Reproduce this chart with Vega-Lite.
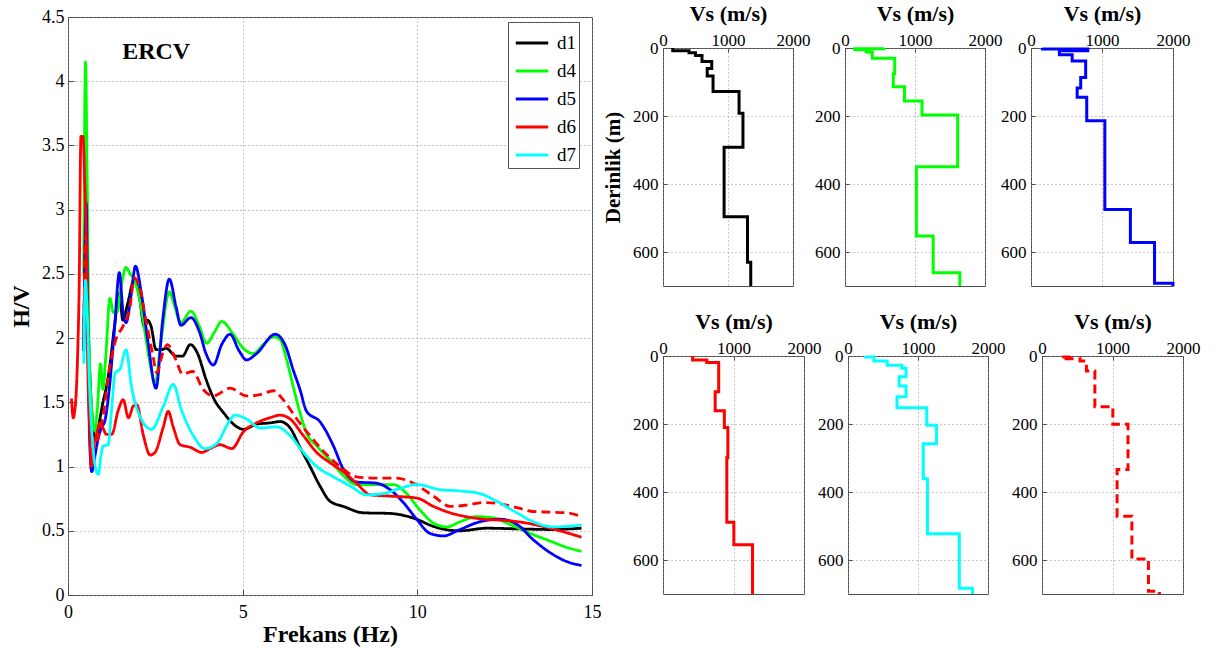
{
  "$schema": "https://vega.github.io/schema/vega-lite/v6.json",
  "padding": {"left": 9, "top": 1, "right": 5, "bottom": 5},
  "bounds": "flush",
  "spacing": 71,
  "resolve": {"scale": {"color": "independent", "strokeDash": "independent"}, "legend": {"color": "independent", "strokeDash": "independent"}},
  "config": {
    "font": "Liberation Serif",
    "view": {"stroke": "#4d4d4d", "strokeWidth": 1},
    "axis": {"grid": true, "gridColor": "#8c8c8c", "gridDash": [1, 3], "gridWidth": 1, "domain": false, "ticks": true, "tickColor": "#4d4d4d", "tickWidth": 1, "labelColor": "#000000", "titleColor": "#000000", "labelFont": "Liberation Serif", "titleFont": "Liberation Serif", "titleFontWeight": "bold", "labelFlush": false, "labelOverlap": false}
  },
  "datasets": {
    "hv": [
      {"s":"d1","f":0.45,"v":1.9},{"s":"d1","f":0.5,"v":2.6},{"s":"d1","f":0.55,"v":2.3},{"s":"d1","f":0.62,"v":1.75},{"s":"d1","f":0.7,"v":1.35},{"s":"d1","f":0.8,"v":1.2},{"s":"d1","f":0.9,"v":1.35},{"s":"d1","f":1.0,"v":1.5},{"s":"d1","f":1.1,"v":1.62},{"s":"d1","f":1.18,"v":1.75},{"s":"d1","f":1.33,"v":2.09},{"s":"d1","f":1.47,"v":2.35},{"s":"d1","f":1.57,"v":2.14},{"s":"d1","f":1.71,"v":2.27},{"s":"d1","f":1.9,"v":2.46},{"s":"d1","f":2.04,"v":2.33},{"s":"d1","f":2.18,"v":2.09},{"s":"d1","f":2.28,"v":2.14},{"s":"d1","f":2.38,"v":2.09},{"s":"d1","f":2.52,"v":1.91},{"s":"d1","f":2.66,"v":1.91},{"s":"d1","f":2.81,"v":1.92},{"s":"d1","f":3.09,"v":1.86},{"s":"d1","f":3.28,"v":1.86},{"s":"d1","f":3.5,"v":1.95},{"s":"d1","f":3.71,"v":1.88},{"s":"d1","f":3.95,"v":1.68},{"s":"d1","f":4.19,"v":1.52},{"s":"d1","f":4.45,"v":1.42},{"s":"d1","f":4.83,"v":1.31},{"s":"d1","f":5.02,"v":1.29},{"s":"d1","f":5.4,"v":1.33},{"s":"d1","f":5.78,"v":1.34},{"s":"d1","f":6.07,"v":1.35},{"s":"d1","f":6.36,"v":1.3},{"s":"d1","f":6.64,"v":1.15},{"s":"d1","f":6.93,"v":1.0},{"s":"d1","f":7.21,"v":0.85},{"s":"d1","f":7.5,"v":0.73},{"s":"d1","f":7.88,"v":0.69},{"s":"d1","f":8.45,"v":0.64},{"s":"d1","f":9.22,"v":0.635},{"s":"d1","f":9.6,"v":0.62},{"s":"d1","f":9.98,"v":0.59},{"s":"d1","f":10.4,"v":0.54},{"s":"d1","f":10.8,"v":0.51},{"s":"d1","f":11.22,"v":0.5},{"s":"d1","f":11.98,"v":0.52},{"s":"d1","f":12.85,"v":0.515},{"s":"d1","f":13.8,"v":0.51},{"s":"d1","f":14.7,"v":0.52},
      {"s":"d4","f":0.45,"v":2.5},{"s":"d4","f":0.5,"v":4.15},{"s":"d4","f":0.55,"v":3.2},{"s":"d4","f":0.6,"v":2.0},{"s":"d4","f":0.68,"v":1.45},{"s":"d4","f":0.76,"v":1.28},{"s":"d4","f":0.84,"v":1.45},{"s":"d4","f":0.93,"v":1.8},{"s":"d4","f":1.0,"v":1.6},{"s":"d4","f":1.08,"v":1.85},{"s":"d4","f":1.2,"v":2.31},{"s":"d4","f":1.3,"v":2.2},{"s":"d4","f":1.4,"v":2.2},{"s":"d4","f":1.52,"v":2.4},{"s":"d4","f":1.66,"v":2.55},{"s":"d4","f":1.78,"v":2.5},{"s":"d4","f":1.9,"v":2.45},{"s":"d4","f":2.05,"v":2.3},{"s":"d4","f":2.2,"v":2.05},{"s":"d4","f":2.35,"v":1.8},{"s":"d4","f":2.49,"v":1.64},{"s":"d4","f":2.65,"v":1.95},{"s":"d4","f":2.9,"v":2.36},{"s":"d4","f":3.05,"v":2.25},{"s":"d4","f":3.23,"v":2.12},{"s":"d4","f":3.52,"v":2.21},{"s":"d4","f":3.75,"v":2.1},{"s":"d4","f":3.97,"v":1.96},{"s":"d4","f":4.2,"v":2.05},{"s":"d4","f":4.4,"v":2.13},{"s":"d4","f":4.73,"v":2.03},{"s":"d4","f":5.02,"v":1.92},{"s":"d4","f":5.31,"v":1.88},{"s":"d4","f":5.59,"v":1.95},{"s":"d4","f":5.88,"v":2.01},{"s":"d4","f":6.07,"v":1.99},{"s":"d4","f":6.26,"v":1.83},{"s":"d4","f":6.45,"v":1.62},{"s":"d4","f":6.64,"v":1.42},{"s":"d4","f":6.83,"v":1.26},{"s":"d4","f":7.12,"v":1.16},{"s":"d4","f":7.5,"v":1.05},{"s":"d4","f":7.88,"v":0.93},{"s":"d4","f":8.26,"v":0.86},{"s":"d4","f":8.84,"v":0.86},{"s":"d4","f":9.31,"v":0.86},{"s":"d4","f":9.69,"v":0.79},{"s":"d4","f":10.08,"v":0.66},{"s":"d4","f":10.46,"v":0.56},{"s":"d4","f":10.84,"v":0.53},{"s":"d4","f":11.22,"v":0.57},{"s":"d4","f":11.7,"v":0.61},{"s":"d4","f":12.18,"v":0.6},{"s":"d4","f":12.65,"v":0.55},{"s":"d4","f":13.23,"v":0.48},{"s":"d4","f":13.8,"v":0.42},{"s":"d4","f":14.28,"v":0.37},{"s":"d4","f":14.7,"v":0.34},
      {"s":"d5","f":0.45,"v":1.9},{"s":"d5","f":0.52,"v":3.05},{"s":"d5","f":0.57,"v":2.0},{"s":"d5","f":0.62,"v":1.2},{"s":"d5","f":0.68,"v":0.96},{"s":"d5","f":0.75,"v":1.05},{"s":"d5","f":0.85,"v":1.2},{"s":"d5","f":0.95,"v":1.3},{"s":"d5","f":1.05,"v":1.35},{"s":"d5","f":1.18,"v":1.6},{"s":"d5","f":1.33,"v":2.07},{"s":"d5","f":1.47,"v":2.51},{"s":"d5","f":1.57,"v":2.22},{"s":"d5","f":1.66,"v":2.12},{"s":"d5","f":1.81,"v":2.34},{"s":"d5","f":1.93,"v":2.56},{"s":"d5","f":2.1,"v":2.35},{"s":"d5","f":2.28,"v":1.99},{"s":"d5","f":2.52,"v":1.61},{"s":"d5","f":2.71,"v":2.14},{"s":"d5","f":2.9,"v":2.46},{"s":"d5","f":3.09,"v":2.25},{"s":"d5","f":3.23,"v":2.1},{"s":"d5","f":3.52,"v":2.16},{"s":"d5","f":3.76,"v":2.05},{"s":"d5","f":3.95,"v":1.88},{"s":"d5","f":4.16,"v":1.79},{"s":"d5","f":4.4,"v":1.95},{"s":"d5","f":4.64,"v":2.03},{"s":"d5","f":4.9,"v":1.9},{"s":"d5","f":5.11,"v":1.83},{"s":"d5","f":5.4,"v":1.88},{"s":"d5","f":5.93,"v":2.03},{"s":"d5","f":6.21,"v":1.95},{"s":"d5","f":6.45,"v":1.75},{"s":"d5","f":6.64,"v":1.6},{"s":"d5","f":6.83,"v":1.43},{"s":"d5","f":7.21,"v":1.35},{"s":"d5","f":7.6,"v":1.16},{"s":"d5","f":7.88,"v":0.98},{"s":"d5","f":8.26,"v":0.88},{"s":"d5","f":8.84,"v":0.87},{"s":"d5","f":9.22,"v":0.82},{"s":"d5","f":9.6,"v":0.72},{"s":"d5","f":9.98,"v":0.59},{"s":"d5","f":10.36,"v":0.48},{"s":"d5","f":10.74,"v":0.46},{"s":"d5","f":11.22,"v":0.51},{"s":"d5","f":11.79,"v":0.57},{"s":"d5","f":12.37,"v":0.59},{"s":"d5","f":12.85,"v":0.55},{"s":"d5","f":13.32,"v":0.43},{"s":"d5","f":13.8,"v":0.33},{"s":"d5","f":14.28,"v":0.26},{"s":"d5","f":14.7,"v":0.23},
      {"s":"d6","f":0.1,"v":1.53},{"s":"d6","f":0.15,"v":1.38},{"s":"d6","f":0.2,"v":1.45},{"s":"d6","f":0.23,"v":1.55},{"s":"d6","f":0.28,"v":1.91},{"s":"d6","f":0.32,"v":2.4},{"s":"d6","f":0.37,"v":3.57},{"s":"d6","f":0.43,"v":3.57},{"s":"d6","f":0.48,"v":3.2},{"s":"d6","f":0.52,"v":2.79},{"s":"d6","f":0.56,"v":1.89},{"s":"d6","f":0.62,"v":1.3},{"s":"d6","f":0.67,"v":1.0},{"s":"d6","f":0.73,"v":1.15},{"s":"d6","f":0.82,"v":1.26},{"s":"d6","f":0.92,"v":1.34},{"s":"d6","f":1.0,"v":1.3},{"s":"d6","f":1.1,"v":1.25},{"s":"d6","f":1.25,"v":1.25},{"s":"d6","f":1.44,"v":1.44},{"s":"d6","f":1.58,"v":1.52},{"s":"d6","f":1.73,"v":1.38},{"s":"d6","f":1.87,"v":1.47},{"s":"d6","f":1.97,"v":1.48},{"s":"d6","f":2.16,"v":1.24},{"s":"d6","f":2.35,"v":1.09},{"s":"d6","f":2.49,"v":1.11},{"s":"d6","f":2.73,"v":1.31},{"s":"d6","f":2.87,"v":1.43},{"s":"d6","f":3.01,"v":1.31},{"s":"d6","f":3.21,"v":1.17},{"s":"d6","f":3.5,"v":1.15},{"s":"d6","f":3.83,"v":1.11},{"s":"d6","f":4.07,"v":1.14},{"s":"d6","f":4.35,"v":1.17},{"s":"d6","f":4.69,"v":1.14},{"s":"d6","f":5.02,"v":1.27},{"s":"d6","f":5.4,"v":1.34},{"s":"d6","f":5.78,"v":1.38},{"s":"d6","f":6.07,"v":1.4},{"s":"d6","f":6.36,"v":1.37},{"s":"d6","f":6.74,"v":1.24},{"s":"d6","f":7.12,"v":1.11},{"s":"d6","f":7.5,"v":1.03},{"s":"d6","f":7.88,"v":0.96},{"s":"d6","f":8.26,"v":0.87},{"s":"d6","f":8.65,"v":0.78},{"s":"d6","f":9.22,"v":0.77},{"s":"d6","f":9.98,"v":0.755},{"s":"d6","f":10.46,"v":0.69},{"s":"d6","f":10.94,"v":0.64},{"s":"d6","f":11.4,"v":0.61},{"s":"d6","f":11.89,"v":0.59},{"s":"d6","f":12.56,"v":0.58},{"s":"d6","f":13.13,"v":0.56},{"s":"d6","f":13.8,"v":0.52},{"s":"d6","f":14.7,"v":0.45},
      {"s":"d6b","f":0.45,"v":2.0},{"s":"d6b","f":0.5,"v":2.8},{"s":"d6b","f":0.55,"v":2.4},{"s":"d6b","f":0.6,"v":1.6},{"s":"d6b","f":0.68,"v":1.2},{"s":"d6b","f":0.78,"v":1.15},{"s":"d6b","f":0.85,"v":1.22},{"s":"d6b","f":0.99,"v":1.37},{"s":"d6b","f":1.18,"v":1.75},{"s":"d6b","f":1.37,"v":1.99},{"s":"d6b","f":1.57,"v":2.09},{"s":"d6b","f":1.76,"v":2.22},{"s":"d6b","f":1.9,"v":2.47},{"s":"d6b","f":2.04,"v":2.4},{"s":"d6b","f":2.23,"v":2.14},{"s":"d6b","f":2.42,"v":1.88},{"s":"d6b","f":2.54,"v":1.73},{"s":"d6b","f":2.71,"v":1.88},{"s":"d6b","f":2.85,"v":1.95},{"s":"d6b","f":3.09,"v":1.83},{"s":"d6b","f":3.28,"v":1.72},{"s":"d6b","f":3.57,"v":1.74},{"s":"d6b","f":3.87,"v":1.6},{"s":"d6b","f":4.16,"v":1.55},{"s":"d6b","f":4.64,"v":1.61},{"s":"d6b","f":5.11,"v":1.55},{"s":"d6b","f":5.5,"v":1.56},{"s":"d6b","f":5.88,"v":1.59},{"s":"d6b","f":6.16,"v":1.52},{"s":"d6b","f":6.55,"v":1.37},{"s":"d6b","f":6.93,"v":1.24},{"s":"d6b","f":7.31,"v":1.12},{"s":"d6b","f":7.79,"v":1.0},{"s":"d6b","f":8.26,"v":0.92},{"s":"d6b","f":8.84,"v":0.91},{"s":"d6b","f":9.41,"v":0.91},{"s":"d6b","f":9.89,"v":0.87},{"s":"d6b","f":10.46,"v":0.77},{"s":"d6b","f":10.94,"v":0.69},{"s":"d6b","f":11.4,"v":0.7},{"s":"d6b","f":11.89,"v":0.72},{"s":"d6b","f":12.37,"v":0.71},{"s":"d6b","f":12.85,"v":0.68},{"s":"d6b","f":13.32,"v":0.65},{"s":"d6b","f":13.8,"v":0.645},{"s":"d6b","f":14.28,"v":0.64},{"s":"d6b","f":14.7,"v":0.61},
      {"s":"d7","f":0.45,"v":1.8},{"s":"d7","f":0.5,"v":2.45},{"s":"d7","f":0.55,"v":2.2},{"s":"d7","f":0.62,"v":1.6},{"s":"d7","f":0.7,"v":1.2},{"s":"d7","f":0.78,"v":1.0},{"s":"d7","f":0.87,"v":0.94},{"s":"d7","f":0.95,"v":1.1},{"s":"d7","f":1.01,"v":1.16},{"s":"d7","f":1.15,"v":1.17},{"s":"d7","f":1.25,"v":1.45},{"s":"d7","f":1.35,"v":1.73},{"s":"d7","f":1.49,"v":1.76},{"s":"d7","f":1.66,"v":1.91},{"s":"d7","f":1.82,"v":1.62},{"s":"d7","f":2.06,"v":1.39},{"s":"d7","f":2.39,"v":1.29},{"s":"d7","f":2.73,"v":1.47},{"s":"d7","f":3.01,"v":1.64},{"s":"d7","f":3.25,"v":1.44},{"s":"d7","f":3.59,"v":1.24},{"s":"d7","f":3.92,"v":1.14},{"s":"d7","f":4.26,"v":1.18},{"s":"d7","f":4.59,"v":1.34},{"s":"d7","f":4.78,"v":1.4},{"s":"d7","f":5.11,"v":1.37},{"s":"d7","f":5.5,"v":1.3},{"s":"d7","f":5.97,"v":1.31},{"s":"d7","f":6.36,"v":1.24},{"s":"d7","f":6.74,"v":1.11},{"s":"d7","f":7.12,"v":1.0},{"s":"d7","f":7.6,"v":0.92},{"s":"d7","f":8.07,"v":0.85},{"s":"d7","f":8.55,"v":0.78},{"s":"d7","f":9.03,"v":0.79},{"s":"d7","f":9.5,"v":0.83},{"s":"d7","f":9.98,"v":0.86},{"s":"d7","f":10.65,"v":0.82},{"s":"d7","f":11.22,"v":0.81},{"s":"d7","f":11.79,"v":0.79},{"s":"d7","f":12.27,"v":0.73},{"s":"d7","f":12.85,"v":0.64},{"s":"d7","f":13.32,"v":0.57},{"s":"d7","f":13.89,"v":0.53},{"s":"d7","f":14.7,"v":0.545}
    ],
    "lbl": [{"t": "ERCV", "f": 1.55, "v": 4.17}],
    "vs": [
      {"p":"d1","i":0,"x":150,"d":0},{"p":"d1","i":1,"x":150,"d":8},{"p":"d1","i":2,"x":400,"d":8},{"p":"d1","i":3,"x":400,"d":14},{"p":"d1","i":4,"x":500,"d":14},{"p":"d1","i":5,"x":500,"d":22},{"p":"d1","i":6,"x":600,"d":22},{"p":"d1","i":7,"x":600,"d":40},{"p":"d1","i":8,"x":750,"d":40},{"p":"d1","i":9,"x":750,"d":60},{"p":"d1","i":10,"x":680,"d":60},{"p":"d1","i":11,"x":680,"d":82},{"p":"d1","i":12,"x":770,"d":82},{"p":"d1","i":13,"x":770,"d":128},{"p":"d1","i":14,"x":1170,"d":128},{"p":"d1","i":15,"x":1170,"d":192},{"p":"d1","i":16,"x":1230,"d":192},{"p":"d1","i":17,"x":1230,"d":292},{"p":"d1","i":18,"x":940,"d":292},{"p":"d1","i":19,"x":940,"d":496},{"p":"d1","i":20,"x":1300,"d":496},{"p":"d1","i":21,"x":1300,"d":630},{"p":"d1","i":22,"x":1350,"d":630},{"p":"d1","i":23,"x":1350,"d":700},
      {"p":"d4","i":0,"x":560,"d":0},{"p":"d4","i":1,"x":560,"d":2},{"p":"d4","i":2,"x":140,"d":2},{"p":"d4","i":3,"x":140,"d":5},{"p":"d4","i":4,"x":300,"d":5},{"p":"d4","i":5,"x":300,"d":12},{"p":"d4","i":6,"x":390,"d":12},{"p":"d4","i":7,"x":390,"d":30},{"p":"d4","i":8,"x":710,"d":30},{"p":"d4","i":9,"x":710,"d":76},{"p":"d4","i":10,"x":690,"d":76},{"p":"d4","i":11,"x":690,"d":114},{"p":"d4","i":12,"x":850,"d":114},{"p":"d4","i":13,"x":850,"d":156},{"p":"d4","i":14,"x":1100,"d":156},{"p":"d4","i":15,"x":1100,"d":197},{"p":"d4","i":16,"x":1610,"d":197},{"p":"d4","i":17,"x":1610,"d":349},{"p":"d4","i":18,"x":1020,"d":349},{"p":"d4","i":19,"x":1020,"d":553},{"p":"d4","i":20,"x":1260,"d":553},{"p":"d4","i":21,"x":1260,"d":661},{"p":"d4","i":22,"x":1640,"d":661},{"p":"d4","i":23,"x":1640,"d":700},
      {"p":"d5","i":0,"x":160,"d":0},{"p":"d5","i":1,"x":160,"d":3},{"p":"d5","i":2,"x":800,"d":3},{"p":"d5","i":3,"x":800,"d":8},{"p":"d5","i":4,"x":400,"d":8},{"p":"d5","i":5,"x":400,"d":20},{"p":"d5","i":6,"x":580,"d":20},{"p":"d5","i":7,"x":580,"d":38},{"p":"d5","i":8,"x":770,"d":38},{"p":"d5","i":9,"x":770,"d":87},{"p":"d5","i":10,"x":700,"d":87},{"p":"d5","i":11,"x":700,"d":118},{"p":"d5","i":12,"x":650,"d":118},{"p":"d5","i":13,"x":650,"d":145},{"p":"d5","i":14,"x":785,"d":145},{"p":"d5","i":15,"x":785,"d":214},{"p":"d5","i":16,"x":1040,"d":214},{"p":"d5","i":17,"x":1040,"d":475},{"p":"d5","i":18,"x":1400,"d":475},{"p":"d5","i":19,"x":1400,"d":572},{"p":"d5","i":20,"x":1740,"d":572},{"p":"d5","i":21,"x":1740,"d":692},{"p":"d5","i":22,"x":2000,"d":692},{"p":"d5","i":23,"x":2000,"d":700},
      {"p":"d6","i":0,"x":420,"d":0},{"p":"d6","i":1,"x":420,"d":12},{"p":"d6","i":2,"x":620,"d":12},{"p":"d6","i":3,"x":620,"d":19},{"p":"d6","i":4,"x":790,"d":19},{"p":"d6","i":5,"x":790,"d":105},{"p":"d6","i":6,"x":740,"d":105},{"p":"d6","i":7,"x":740,"d":161},{"p":"d6","i":8,"x":870,"d":161},{"p":"d6","i":9,"x":870,"d":210},{"p":"d6","i":10,"x":920,"d":210},{"p":"d6","i":11,"x":920,"d":299},{"p":"d6","i":12,"x":905,"d":299},{"p":"d6","i":13,"x":905,"d":489},{"p":"d6","i":14,"x":1005,"d":489},{"p":"d6","i":15,"x":1005,"d":555},{"p":"d6","i":16,"x":1270,"d":555},{"p":"d6","i":17,"x":1270,"d":700},
      {"p":"d7","i":0,"x":250,"d":0},{"p":"d7","i":1,"x":250,"d":3},{"p":"d7","i":2,"x":370,"d":3},{"p":"d7","i":3,"x":370,"d":15},{"p":"d7","i":4,"x":560,"d":15},{"p":"d7","i":5,"x":560,"d":27},{"p":"d7","i":6,"x":770,"d":27},{"p":"d7","i":7,"x":770,"d":36},{"p":"d7","i":8,"x":830,"d":36},{"p":"d7","i":9,"x":830,"d":61},{"p":"d7","i":10,"x":730,"d":61},{"p":"d7","i":11,"x":730,"d":88},{"p":"d7","i":12,"x":830,"d":88},{"p":"d7","i":13,"x":830,"d":120},{"p":"d7","i":14,"x":700,"d":120},{"p":"d7","i":15,"x":700,"d":152},{"p":"d7","i":16,"x":1125,"d":152},{"p":"d7","i":17,"x":1125,"d":204},{"p":"d7","i":18,"x":1265,"d":204},{"p":"d7","i":19,"x":1265,"d":258},{"p":"d7","i":20,"x":1075,"d":258},{"p":"d7","i":21,"x":1075,"d":361},{"p":"d7","i":22,"x":1135,"d":361},{"p":"d7","i":23,"x":1135,"d":523},{"p":"d7","i":24,"x":1590,"d":523},{"p":"d7","i":25,"x":1590,"d":683},{"p":"d7","i":26,"x":1780,"d":683},{"p":"d7","i":27,"x":1780,"d":700},
      {"p":"d6b","i":0,"x":400,"d":0},{"p":"d6b","i":1,"x":400,"d":3},{"p":"d6b","i":2,"x":280,"d":3},{"p":"d6b","i":3,"x":280,"d":8},{"p":"d6b","i":4,"x":540,"d":8},{"p":"d6b","i":5,"x":540,"d":15},{"p":"d6b","i":6,"x":630,"d":15},{"p":"d6b","i":7,"x":630,"d":44},{"p":"d6b","i":8,"x":750,"d":44},{"p":"d6b","i":9,"x":750,"d":149},{"p":"d6b","i":10,"x":1005,"d":149},{"p":"d6b","i":11,"x":1005,"d":201},{"p":"d6b","i":12,"x":1220,"d":201},{"p":"d6b","i":13,"x":1220,"d":334},{"p":"d6b","i":14,"x":1065,"d":334},{"p":"d6b","i":15,"x":1065,"d":471},{"p":"d6b","i":16,"x":1275,"d":471},{"p":"d6b","i":17,"x":1275,"d":597},{"p":"d6b","i":18,"x":1510,"d":597},{"p":"d6b","i":19,"x":1510,"d":692},{"p":"d6b","i":20,"x":1665,"d":692},{"p":"d6b","i":21,"x":1665,"d":700}
    ]
  },
  "hconcat": [
    {
      "width": 524,
      "height": 578,
      "layer": [
        {
          "data": {"name": "hv"},
          "mark": {"type": "line", "strokeWidth": 2.8, "interpolate": "monotone", "clip": true},
          "encoding": {
            "x": {"field": "f", "type": "quantitative", "scale": {"domain": [0, 15], "nice": false}, "axis": {"title": "Frekans (Hz)", "values": [0, 5, 10, 15], "format": "~g", "labelFontSize": 18, "tickSize": -6, "labelPadding": 14, "titleFontSize": 24, "titlePadding": 1}},
            "y": {"field": "v", "type": "quantitative", "scale": {"domain": [0, 4.5], "nice": false}, "axis": {"title": "H/V", "values": [0, 0.5, 1, 1.5, 2, 2.5, 3, 3.5, 4, 4.5], "format": "~g", "labelFontSize": 18, "tickSize": -6, "labelPadding": 10, "titleFontSize": 24, "titlePadding": 8}},
            "color": {"field": "s", "type": "nominal", "scale": {"domain": ["d1", "d4", "d5", "d6", "d7", "d6b"], "range": ["#000000", "#00ff00", "#0000ff", "#ff0000", "#00ffff", "#ff0000"]}, "legend": {"values": ["d1", "d4", "d5", "d6", "d7"], "title": null, "orient": "none", "legendX": 440, "legendY": 5, "strokeColor": "#555555", "fillColor": "#ffffff", "padding": 3, "symbolOffset": 3, "symbolType": "stroke", "symbolStrokeWidth": 3, "symbolSize": 1050, "labelFontSize": 19, "labelOffset": 7, "rowPadding": 0, "labelFont": "Liberation Serif", "labelColor": "#000000", "labelExpr": "datum.label + '     '"}},
            "strokeDash": {"field": "s", "type": "nominal", "scale": {"domain": ["d1", "d4", "d5", "d6", "d7", "d6b"], "range": [[1, 0], [1, 0], [1, 0], [1, 0], [1, 0], [9, 5]]}, "legend": null}
          }
        },
        {
          "data": {"name": "lbl"},
          "mark": {"type": "text", "fontSize": 24, "fontWeight": "bold", "align": "left", "baseline": "alphabetic", "color": "#000000"},
          "encoding": {
            "x": {"field": "f", "type": "quantitative"},
            "y": {"field": "v", "type": "quantitative"},
            "text": {"field": "t"}
          }
        }
      ]
    },
    {
      "bounds": "flush",
      "spacing": 0,
      "vconcat": [
        {"width": 10, "height": 31, "data": {"values": []}, "mark": {"type": "point", "opacity": 0}, "view": {"stroke": null}},
        {
          "bounds": "flush",
          "spacing": 52,
          "hconcat": [
            {
              "width": 130, "height": 238,
              "data": {"name": "vs"}, "transform": [{"filter": "datum.p == 'd1'"}],
              "mark": {"type": "line", "strokeWidth": 3, "color": "#000000"},
              "encoding": {
                "x": {"field": "x", "type": "quantitative", "scale": {"domain": [0, 2000], "nice": false}, "axis": {"orient": "top", "title": "Vs (m/s)", "values": [0, 1000, 2000], "format": "d", "labelFontSize": 17, "tickSize": -4, "labelPadding": 3, "titleFontSize": 22, "titlePadding": 6}},
                "y": {"field": "d", "type": "quantitative", "scale": {"domain": [0, 700], "reverse": true, "nice": false}, "axis": {"title": "Derinlik (m)", "values": [0, 200, 400, 600], "format": "d", "labelFontSize": 17, "tickSize": -4, "labelPadding": 9, "titleFontSize": 21, "titlePadding": 9}},
                "order": {"field": "i", "type": "quantitative"}
              }
            },
            {
              "bounds": "flush",
              "spacing": 46,
              "hconcat": [
                {
                  "width": 140, "height": 238,
                  "data": {"name": "vs"}, "transform": [{"filter": "datum.p == 'd4'"}],
                  "mark": {"type": "line", "strokeWidth": 3, "color": "#00ff00"},
                  "encoding": {
                    "x": {"field": "x", "type": "quantitative", "scale": {"domain": [0, 2000], "nice": false}, "axis": {"orient": "top", "title": "Vs (m/s)", "values": [0, 1000, 2000], "format": "d", "labelFontSize": 17, "tickSize": -4, "labelPadding": 3, "titleFontSize": 22, "titlePadding": 6}},
                    "y": {"field": "d", "type": "quantitative", "scale": {"domain": [0, 700], "reverse": true, "nice": false}, "axis": {"title": null, "values": [0, 200, 400, 600], "format": "d", "labelFontSize": 17, "tickSize": -4, "labelPadding": 9}},
                    "order": {"field": "i", "type": "quantitative"}
                  }
                },
                {
                  "width": 142, "height": 238,
                  "data": {"name": "vs"}, "transform": [{"filter": "datum.p == 'd5'"}],
                  "mark": {"type": "line", "strokeWidth": 3, "color": "#0000ff"},
                  "encoding": {
                    "x": {"field": "x", "type": "quantitative", "scale": {"domain": [0, 2000], "nice": false}, "axis": {"orient": "top", "title": "Vs (m/s)", "values": [0, 1000, 2000], "format": "d", "labelFontSize": 17, "tickSize": -4, "labelPadding": 3, "titleFontSize": 22, "titlePadding": 6}},
                    "y": {"field": "d", "type": "quantitative", "scale": {"domain": [0, 700], "reverse": true, "nice": false}, "axis": {"title": null, "values": [0, 200, 400, 600], "format": "d", "labelFontSize": 17, "tickSize": -4, "labelPadding": 9}},
                    "order": {"field": "i", "type": "quantitative"}
                  }
                }
              ]
            }
          ]
        },
        {"width": 10, "height": 308, "data": {"values": []}, "mark": {"type": "point", "opacity": 0}, "view": {"stroke": null}},
        {
          "bounds": "flush",
          "spacing": 44,
          "hconcat": [
            {
              "width": 141, "height": 238,
              "data": {"name": "vs"}, "transform": [{"filter": "datum.p == 'd6'"}],
              "mark": {"type": "line", "strokeWidth": 3, "color": "#ff0000"},
              "encoding": {
                "x": {"field": "x", "type": "quantitative", "scale": {"domain": [0, 2000], "nice": false}, "axis": {"orient": "top", "title": "Vs (m/s)", "values": [0, 1000, 2000], "format": "d", "labelFontSize": 17, "tickSize": -4, "labelPadding": 3, "titleFontSize": 22, "titlePadding": 6}},
                "y": {"field": "d", "type": "quantitative", "scale": {"domain": [0, 700], "reverse": true, "nice": false}, "axis": {"title": null, "values": [0, 200, 400, 600], "format": "d", "labelFontSize": 17, "tickSize": -4, "labelPadding": 9}},
                "order": {"field": "i", "type": "quantitative"}
              }
            },
            {
              "bounds": "flush",
              "spacing": 54,
              "hconcat": [
                {
                  "width": 140, "height": 238,
                  "data": {"name": "vs"}, "transform": [{"filter": "datum.p == 'd7'"}],
                  "mark": {"type": "line", "strokeWidth": 3, "color": "#00ffff"},
                  "encoding": {
                    "x": {"field": "x", "type": "quantitative", "scale": {"domain": [0, 2000], "nice": false}, "axis": {"orient": "top", "title": "Vs (m/s)", "values": [0, 1000, 2000], "format": "d", "labelFontSize": 17, "tickSize": -4, "labelPadding": 3, "titleFontSize": 22, "titlePadding": 6}},
                    "y": {"field": "d", "type": "quantitative", "scale": {"domain": [0, 700], "reverse": true, "nice": false}, "axis": {"title": null, "values": [0, 200, 400, 600], "format": "d", "labelFontSize": 17, "tickSize": -4, "labelPadding": 9}},
                    "order": {"field": "i", "type": "quantitative"}
                  }
                },
                {
                  "width": 141, "height": 238,
                  "data": {"name": "vs"}, "transform": [{"filter": "datum.p == 'd6b'"}],
                  "mark": {"type": "line", "strokeWidth": 3, "color": "#ff0000", "strokeDash": [9, 5]},
                  "encoding": {
                    "x": {"field": "x", "type": "quantitative", "scale": {"domain": [0, 2000], "nice": false}, "axis": {"orient": "top", "title": "Vs (m/s)", "values": [0, 1000, 2000], "format": "d", "labelFontSize": 17, "tickSize": -4, "labelPadding": 3, "titleFontSize": 22, "titlePadding": 6}},
                    "y": {"field": "d", "type": "quantitative", "scale": {"domain": [0, 700], "reverse": true, "nice": false}, "axis": {"title": null, "values": [0, 200, 400, 600], "format": "d", "labelFontSize": 17, "tickSize": -4, "labelPadding": 9}},
                    "order": {"field": "i", "type": "quantitative"}
                  }
                }
              ]
            }
          ]
        }
      ]
    }
  ]
}
